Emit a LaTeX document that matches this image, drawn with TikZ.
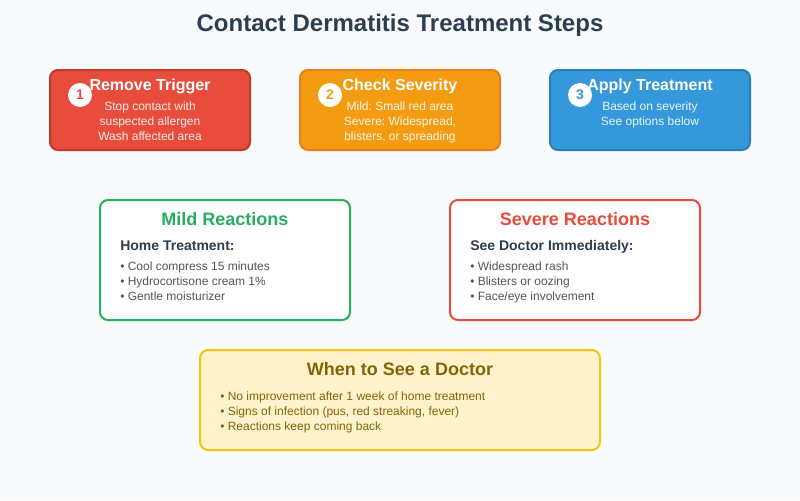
\documentclass[tikz,border=0pt]{standalone}
\usepackage{fontspec}
\setmainfont{Liberation Sans}
\frenchspacing
\definecolor{bgc}{HTML}{F8FAFC}
\definecolor{ink}{HTML}{2C3E50}
\definecolor{grayt}{HTML}{555555}
\definecolor{redf}{HTML}{E74C3C}\definecolor{redd}{HTML}{C0392B}
\definecolor{orf}{HTML}{F39C12}\definecolor{ord}{HTML}{E67E22}
\definecolor{blf}{HTML}{3498DB}\definecolor{bld}{HTML}{2980B9}
\definecolor{grn}{HTML}{27AE60}
\definecolor{yelf}{HTML}{FFF3CD}\definecolor{yeld}{HTML}{F1C40F}\definecolor{yelt}{HTML}{856404}
\tikzset{x=1pt,y=-1pt,
 card/.style={rounded corners=6pt,line width=1.5pt},
 num/.style={circle,fill=white,minimum size=18pt,inner sep=0pt,font=\fontsize{10.5}{12}\selectfont\bfseries},
 steptitle/.style={text=white,font=\fontsize{12}{14}\selectfont\bfseries,inner sep=0pt},
 stepbody/.style={text=white,text opacity=0.9,font=\fontsize{9}{11}\selectfont,align=center,inner sep=0pt},
 head/.style={font=\fontsize{13.5}{16}\selectfont\bfseries,inner sep=0pt},
 sub/.style={text=ink,font=\fontsize{10.5}{12}\selectfont\bfseries,inner sep=0pt,anchor=base west},
 item/.style={text=grayt,font=\fontsize{9}{11}\selectfont,inner sep=0pt,anchor=base west},
 yitem/.style={text=yelt,font=\fontsize{9}{11}\selectfont,inner sep=0pt,anchor=base west}}
\begin{document}
\begin{tikzpicture}[scale=0.75]
\useasboundingbox (0,0) rectangle (800,500);
\fill[bgc] (0,0) rectangle (800,500);
\node[text=ink,font=\fontsize{18}{22}\selectfont\bfseries,inner sep=0pt,anchor=base] (title) at (400,31) {Contact Dermatitis Treatment Steps};
\draw[card,fill=redf,draw=redd] (50,70) rectangle (250,150);
\draw[card,fill=orf,draw=ord] (300,70) rectangle (500,150);
\draw[card,fill=blf,draw=bld] (550,70) rectangle (750,150);
\node[steptitle,anchor=base] (t1) at (150,90) {Remove Trigger};
\node[steptitle,anchor=base] (t2) at (400,90) {Check Severity};
\node[steptitle,anchor=base] (t3) at (650,90) {Apply Treatment};
\node[num,text=redf] (n1) at (80,95) {1};
\node[num,text=orf] (n2) at (330,95) {2};
\node[num,text=blf] (n3) at (580,95) {3};
\node[stepbody,anchor=base] (ba) at (150,110) {Stop contact with};
\node[stepbody,anchor=base] (bb) at (150,125) {suspected allergen};
\node[stepbody,anchor=base] (bc) at (150,140) {Wash affected area};
\node[stepbody,anchor=base] (bd) at (400,110) {Mild: Small red area};
\node[stepbody,anchor=base] (be) at (400,125) {Severe: Widespread,};
\node[stepbody,anchor=base] (bf) at (400,140) {blisters, or spreading};
\node[stepbody,anchor=base] (bg) at (650,110) {Based on severity};
\node[stepbody,anchor=base] (bh) at (650,125) {See options below};
\draw[card,fill=white,draw=grn] (100,200) rectangle (350,320);
\draw[card,fill=white,draw=redf] (450,200) rectangle (700,320);
\node[head,text=grn,anchor=base] (mh) at (225,225) {Mild Reactions};
\node[head,text=redf,anchor=base] (sh) at (575,225) {Severe Reactions};
\node[sub] (ms) at (120,250) {Home Treatment:};
\node[sub] (ss) at (470,250) {See Doctor Immediately:};
\node[item] (m1) at (120,270) {• Cool compress 15 minutes};
\node[item] (m2) at (120,285) {• Hydrocortisone cream 1\%};
\node[item] (m3) at (120,300) {• Gentle moisturizer};
\node[item] (s1) at (470,270) {• Widespread rash};
\node[item] (s2) at (470,285) {• Blisters or oozing};
\node[item] (s3) at (470,300) {• Face/eye involvement};
\draw[card,fill=yelf,draw=yeld] (200,350) rectangle (600,450);
\node[head,text=yelt,anchor=base] (dh) at (400,375) {When to See a Doctor};
\node[yitem] (d1) at (220,400) {• No improvement after 1 week of home treatment};
\node[yitem] (d2) at (220,415) {• Signs of infection (pus, red streaking, fever)};
\node[yitem] (d3) at (220,430) {• Reactions keep coming back};
\end{tikzpicture}
\end{document}
